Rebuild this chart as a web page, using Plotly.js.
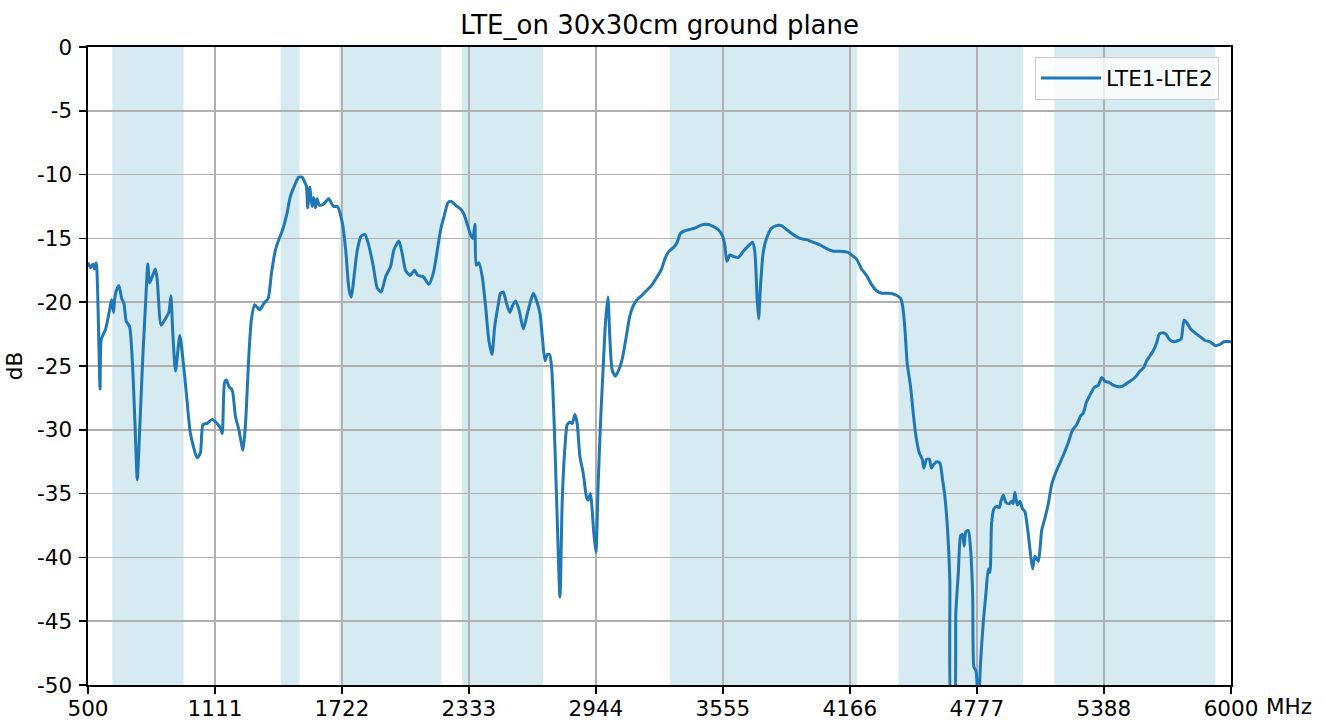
<!DOCTYPE html>
<html>
<head>
<meta charset="utf-8">
<script src="https://cdn.plot.ly/plotly-3.0.1.min.js"></script>
<style>
html,body{margin:0;padding:0;background:#fff;}
#chart{width:1326px;height:722px;}
</style>
</head>
<body>
<div id="chart"></div>
<script>
const freqMHz = [
500,513,524,532,540,558,564,585,604,614,623,628,636,649,662,673,684,700,713,726,737,750,764,777,788,796,809,824,833,852,876,889,899,908,921,942,957,973,993,1025,1041,1053,1073,1097,1121,1138,1146,1157,1166,1178,1194,1210,1226,1246,1258,1274,1286,1302,1327,1346,1367,1383,1402,1418,1437,1458,1474,1495,1514,1530,1543,1551,1557,1567,1578,1586,1594,1602,1613,1634,1658,1682,
1700,1724,1740,1756,1767,1780,1796,1815,1833,1852,1873,1892,1911,1932,1956,1972,1996,2012,2028,2049,2071,2087,2113,2140,2162,2181,2197,2213,2232,2248,2269,2293,2309,2325,2341,2352,2362,2368,2381,2397,2413,2429,2444,2457,2473,2485,2498,2514,2530,2542,2558,2574,2595,2614,2630,2643,2659,2675,2686,2699,2710,2721,2731,2742,2755,2771,2782,2794,2806,2819,2830,2843,2854,2867,2883,2899,2907,2918,2926,2934,2944,2955,2966,2979,2990,3002,
3010,3022,3038,3054,3070,3090,3107,3123,3142,3163,3187,3211,3235,3260,3276,3296,3319,3335,3351,3372,3396,3420,3444,3473,3500,3532,3553,3564,3574,3588,3605,3629,3653,3677,3698,3709,3720,3727,3736,3749,3765,3789,3813,3837,3861,3893,3925,3958,3990,4022,4054,4086,4118,4158,4182,4198,4222,4246,4270,4295,4319,4351,4383,4410,
4420,4431,4442,4458,4471,4484,4500,4514,4522,4535,4548,4559,4570,4586,4599,4612,4623,4636,4647,4655,4667,4676,4688,4699,4708,4716,4724,4736,4747,4757,4763,4773,4784,4795,4808,4821,4832,4840,4848,4859,4872,4885,4893,4904,4917,4933,4944,4952,4960,4972,4984,4997,5008,5020,5033,5045,5057,5073,5089,5105,5121,5137,5158,5177,5198,5217,5238,5257,5277,5289,5305,5321,5341,5362,5378,5394,5415,5434,5453,5474,5495,5514,5538,5562,5581,5594,5610,5626,5642,5655,5671,5687,5703,5723,5747,5760,5774,5787,5806,5827,5851,5875,5899,5923,5947,5966,6000
];
const isolationDb = [
-16.9,-17.3,-17.0,-17.4,-16.9,-26.8,-22.9,-22.1,-20.6,-19.8,-20.8,-19.8,-19.1,-18.7,-19.7,-20.1,-21.5,-21.9,-24.5,-29.5,-33.9,-29.5,-24.2,-20.1,-17.0,-18.5,-18.0,-17.4,-18.2,-21.8,-21.2,-20.8,-19.5,-22.4,-25.4,-22.6,-24.5,-27.1,-30.3,-32.2,-31.8,-29.6,-29.5,-29.2,-29.5,-29.9,-30.3,-26.3,-26.1,-26.6,-26.9,-29.0,-30.0,-31.6,-29.5,-24.2,-21.4,-20.2,-20.6,-20.1,-19.7,-17.7,-15.9,-15.1,-14.3,-13.0,-11.7,-10.8,-10.2,-10.2,-10.6,-10.9,-12.6,-11.0,-12.5,-11.8,-12.6,-11.9,-12.4,-12.3,-11.9,-12.5,
-12.5,-13.8,-15.9,-19.0,-19.6,-18.0,-15.9,-14.8,-14.7,-15.6,-17.2,-18.9,-19.2,-18.0,-17.2,-15.9,-15.2,-16.2,-17.5,-17.9,-17.5,-17.9,-18.0,-18.6,-17.7,-15.9,-14.3,-13.3,-12.2,-12.1,-12.4,-12.7,-13.1,-13.9,-14.7,-15.0,-13.9,-17.1,-16.9,-18.0,-20.3,-23.0,-24.1,-21.9,-20.3,-19.3,-19.2,-20.1,-20.8,-20.3,-19.9,-20.6,-22.1,-20.9,-19.9,-19.3,-19.9,-20.9,-22.7,-24.6,-24.1,-24.1,-25.1,-29.0,-35.5,-43.1,-35.5,-31.6,-29.6,-29.4,-29.5,-28.8,-29.5,-32.1,-33.4,-35.3,-35.5,-35.0,-36.3,-38.1,-39.6,-34.2,-29.5,-25.1,-21.6,-19.6,
-22.4,-25.3,-25.8,-25.3,-24.5,-22.7,-21.1,-20.3,-19.8,-19.5,-19.1,-18.7,-18.1,-17.4,-16.6,-16.0,-15.7,-15.3,-14.6,-14.4,-14.3,-14.2,-14.0,-13.9,-14.0,-14.3,-14.8,-15.5,-16.8,-16.3,-16.4,-16.5,-16.0,-15.6,-15.3,-16.1,-19.8,-21.3,-18.7,-16.1,-15.0,-14.2,-14.0,-14.0,-14.3,-14.7,-15.0,-15.1,-15.3,-15.5,-15.8,-16.0,-16.0,-16.1,-16.4,-16.6,-17.4,-17.9,-18.6,-19.1,-19.3,-19.3,-19.4,-19.7,
-20.3,-22.1,-24.8,-26.6,-28.7,-30.5,-31.8,-32.3,-33.0,-32.3,-32.3,-33.0,-32.7,-32.5,-32.6,-33.9,-35.2,-37.8,-41.7,-52,-52,-44.3,-41.2,-38.3,-38.2,-39.1,-38.0,-37.9,-39.4,-43.0,-48.6,-48.9,-52,-48.2,-45.1,-42.8,-40.9,-41.2,-37.3,-36.2,-36.0,-36.1,-35.6,-35.1,-35.7,-35.8,-35.6,-35.8,-34.9,-35.9,-35.6,-36.2,-36.4,-37.6,-39.4,-40.9,-39.9,-40.3,-37.9,-36.9,-35.8,-34.3,-33.3,-32.6,-31.8,-31.0,-30.0,-29.6,-28.9,-28.7,-27.8,-27.3,-26.7,-26.5,-25.9,-26.2,-26.3,-26.5,-26.6,-26.6,-26.4,-26.2,-25.9,-25.4,-25.1,-24.6,-24.2,-23.8,-23.2,-22.5,-22.4,-22.5,-22.9,-23.1,-23.0,-22.9,-21.4,-21.6,-22.1,-22.4,-22.7,-23.0,-23.1,-23.4,-23.3,-23.1,-23.1
];
const bandStart = [617, 1427, 1710, 2300, 3300, 4400, 5150];
const bandEnd   = [960, 1518, 2200, 2690, 4200, 5000, 5925];
const xTickVals = [500, 1111, 1722, 2333, 2944, 3555, 4166, 4777, 5388, 6000];
const yTickVals = [0, -5, -10, -15, -20, -25, -30, -35, -40, -45, -50];
const seriesName = 'LTE1-LTE2';
const chartTitle = 'LTE_on 30x30cm ground plane';

const FONT = 'DejaVu Sans, sans-serif';
const TICK = 21.5;
const shapes = bandStart.map((s, i) => ({
  type: 'rect', xref: 'x', yref: 'paper', x0: s, x1: bandEnd[i], y0: 0, y1: 1,
  fillcolor: 'rgb(213,234,241)', line: {width: 0}, layer: 'below'
}));

const trace = {
  x: freqMHz, y: isolationDb, type: 'scatter', mode: 'lines', name: seriesName,
  line: {color: '#1f77b4', width: 3, shape: 'spline', smoothing: 0.6}
};

const layout = {
  width: 1326, height: 722,
  margin: {l: 88, r: 95, t: 47, b: 37},
  paper_bgcolor: '#fff', plot_bgcolor: '#fff',
  font: {family: FONT, size: TICK, color: '#000'},
  title: {text: chartTitle, font: {family: FONT, size: 26, color: '#000'},
          x: 0.4975, xanchor: 'center', y: 0.965, yanchor: 'middle', yref: 'container'},
  xaxis: {
    range: [500, 6000], tickmode: 'array', tickvals: xTickVals, ticktext: xTickVals.map(String),
    showgrid: true, gridcolor: '#b0b0b0', gridwidth: 1.6, zeroline: false,
    showline: true, linecolor: '#000', linewidth: 1.6, mirror: true,
    ticks: 'outside', ticklen: 7, tickwidth: 1.6, tickcolor: '#000',
    ticklabelstandoff: -3,
    tickfont: {family: FONT, size: TICK, color: '#000'}
  },
  yaxis: {
    range: [-50, 0], tickmode: 'array', tickvals: yTickVals, ticktext: yTickVals.map(String),
    showgrid: true, gridcolor: '#b0b0b0', gridwidth: 1.6, zeroline: false,
    showline: true, linecolor: '#000', linewidth: 1.6, mirror: true,
    ticks: 'outside', ticklen: 7, tickwidth: 1.6, tickcolor: '#000',
    ticklabelstandoff: 3,
    tickfont: {family: FONT, size: TICK, color: '#000'},
    title: {text: 'dB', font: {family: FONT, size: TICK, color: '#000'}, standoff: 8}
  },
  showlegend: true,
  legend: {x: 0.9895, xanchor: 'right', y: 0.985, yanchor: 'top', itemwidth: 60,
           bgcolor: 'rgba(255,255,255,0.8)', bordercolor: '#cccccc', borderwidth: 1,
           font: {family: FONT, size: TICK, color: '#000'}},
  shapes: shapes,
  annotations: [{text: 'MHz', xref: 'paper', yref: 'paper', x: 1.0324, y: 0,
                 xanchor: 'left', yanchor: 'top', yshift: -7, xshift: -4, showarrow: false,
                 font: {family: FONT, size: TICK, color: '#000'}}]
};

Plotly.newPlot('chart', [trace], layout, {displayModeBar: false, staticPlot: true});
</script>
</body>
</html>
